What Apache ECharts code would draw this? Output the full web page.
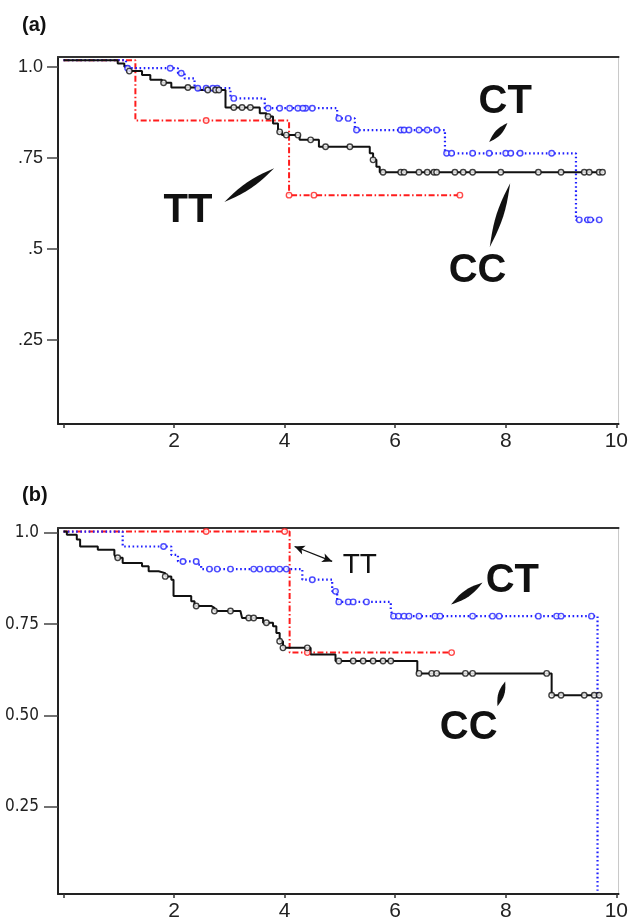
<!DOCTYPE html>
<html><head><meta charset="utf-8">
<script src="https://cdn.jsdelivr.net/npm/echarts@6/dist/echarts.min.js"></script>
<style>html,body{margin:0;padding:0;background:#fff}#c{width:631px;height:922px}</style>
</head><body><div id="c"></div>
<script>
// ---------- tick values ----------
const xTicks = [0, 2, 4, 6, 8, 10];
const xTickLabels = [2, 4, 6, 8, 10];
const yTicks = [0.25, 0.5, 0.75, 1.0];
const yLabelsA = ['.25', '.5', '.75', '1.0'];
const yLabelsB = ['0.25', '0.50', '0.75', '1.0'];

// ---------- panel (a) step curves: event times and survival ----------
const ccA_t = [0, 0.98, 1.1, 1.19, 1.42, 1.57, 1.78, 1.95, 2.43, 2.93, 3.55, 3.67, 3.79, 3.88, 3.95, 4.27, 4.62, 5.54, 5.6, 5.66, 5.72, 9.77];
const ccA_s = [1.019, 1.01, 1.001, 0.989, 0.978, 0.965, 0.957, 0.944, 0.937, 0.889, 0.873, 0.864, 0.845, 0.822, 0.813, 0.8, 0.781, 0.763, 0.745, 0.726, 0.711, 0.711];
const ctA_t = [0, 1.13, 2.07, 2.19, 2.37, 3.02, 3.64, 4.95, 5.27, 6.9, 9.27, 9.72];
const ctA_s = [1.019, 0.997, 0.983, 0.969, 0.942, 0.914, 0.887, 0.859, 0.827, 0.763, 0.58, 0.58];
const ttA_t = [0, 1.30, 4.08, 7.17];
const ttA_s = [1.019, 0.853, 0.648, 0.648];
// censor times (a)
const ccA_c = [1.19, 1.81, 2.25, 2.61, 2.75, 2.81, 3.08, 3.23, 3.38, 3.7, 3.91, 4.03, 4.24, 4.47, 4.74, 5.18, 5.6, 5.78, 6.1, 6.16, 6.43, 6.58, 6.7, 6.75, 7.08, 7.23, 7.4, 7.91, 8.59, 9.0, 9.42, 9.51, 9.69, 9.75];
const ctA_c = [1.16, 1.93, 2.13, 2.43, 2.58, 2.7, 2.78, 3.08, 3.7, 3.91, 4.09, 4.24, 4.38, 4.5, 4.33, 4.98, 5.15, 5.3, 6.1, 6.16, 6.25, 6.43, 6.58, 6.75, 6.93, 7.02, 7.4, 7.7, 8.0, 8.09, 8.26, 8.83, 9.33, 9.48, 9.53, 9.69];
const ttA_c = [2.58, 4.08, 4.53, 7.17];

// ---------- panel (b) ----------
const ccB_t = [0, 0.06, 0.24, 0.3, 0.62, 0.92, 0.95, 1.07, 1.42, 1.54, 1.72, 1.84, 1.95, 1.99, 2.31, 2.37, 2.67, 2.73, 3.2, 3.23, 3.61, 3.79, 3.85, 3.91, 3.97, 4.47, 4.92, 6.4, 8.83, 9.72];
const ccB_s = [1.004, 0.995, 0.982, 0.963, 0.954, 0.94, 0.932, 0.918, 0.909, 0.895, 0.89, 0.881, 0.872, 0.827, 0.813, 0.8, 0.795, 0.786, 0.781, 0.767, 0.754, 0.744, 0.726, 0.703, 0.685, 0.667, 0.649, 0.615, 0.555, 0.555];
const ctB_t = [0, 1.07, 1.95, 2.07, 2.43, 2.49, 4.32, 4.86, 4.95, 5.92, 5.95, 9.66];
const ctB_s = [1.004, 0.963, 0.94, 0.922, 0.913, 0.901, 0.872, 0.84, 0.811, 0.79, 0.772, 0.019];
const ttB_t = [0, 4.09, 7.02];
const ttB_s = [1.004, 0.672, 0.672];
const ccB_c = [0.98, 1.84, 2.4, 2.73, 3.02, 3.35, 3.44, 3.67, 3.91, 3.97, 4.41, 4.98, 5.24, 5.42, 5.6, 5.78, 5.92, 6.43, 6.66, 6.75, 7.27, 7.4, 8.74, 8.83, 9.0, 9.42, 9.6, 9.69];
const ctB_c = [1.81, 2.16, 2.4, 2.64, 2.78, 3.02, 3.44, 3.55, 3.7, 3.79, 3.91, 4.03, 4.5, 4.92, 4.98, 5.15, 5.24, 5.48, 5.97, 6.06, 6.16, 6.25, 6.43, 6.72, 6.81, 7.4, 7.76, 7.88, 8.59, 8.92, 9.0, 9.55];
const ttB_c = [2.58, 4.0, 4.41, 7.02];

// ---------- annotations (data coordinates) ----------
const textsA = [
  { t: 'CT', x: 7.99, y: 0.903, bold: true, size: 40 },
  { t: 'CC', x: 7.49, y: 0.439, bold: true, size: 40 },
  { t: 'TT', x: 2.25, y: 0.604, bold: true, size: 40 }
];
const lensA = [
  [[8.03, 0.846], [7.70, 0.794], 3],
  [[8.08, 0.681], [7.71, 0.505], 3.5],
  [[3.81, 0.722], [2.91, 0.629], 3.5]
];
const textsB = [
  { t: 'TT', x: 5.36, y: 0.911, bold: false, size: 28 },
  { t: 'CT', x: 8.12, y: 0.869, bold: true, size: 40 },
  { t: 'CC', x: 7.33, y: 0.464, bold: true, size: 40 }
];
const lensB = [
  [[7.58, 0.864], [7.01, 0.804], 3.5],
  [[7.99, 0.593], [7.85, 0.525], 3]
];
const arrowB = [[4.18, 0.963], [4.86, 0.922]];

// ---------- helpers ----------
const RED = '#ff1c1c', BLUE = '#1f1fff', BLACK = '#111';
function pts(t, s) { return t.map((v, i) => [v, s[i]]); }
function survAt(t, s, x) { let v = s[0]; for (let i = 0; i < t.length; i++) { if (t[i] <= x + 1e-9) v = s[i]; } return v; }
function cens(t, s, c) { return c.map(x => [x, survAt(t, s, x)]); }

function lineSeries(g, data, color, type, width) {
  return { type: 'line', xAxisIndex: g, yAxisIndex: g, data: data, step: 'end', showSymbol: false,
    lineStyle: { color: color, width: width, type: type }, animation: false, z: 3 };
}
function censSeries(g, data, color) {
  return { type: 'scatter', xAxisIndex: g, yAxisIndex: g, data: data, symbol: 'circle', symbolSize: 5.5,
    itemStyle: { color: '#fff', borderColor: color, borderWidth: 1.4 }, animation: false, z: 4 };
}
const FONT = '"Liberation Sans", Arial, sans-serif';
function xAxis(g) {
  return { type: 'value', gridIndex: g, min: -0.1, max: 10.04, position: 'bottom',
    axisLine: { show: true, onZero: false, lineStyle: { color: '#222', width: 2 } },
    axisTick: { show: true, customValues: xTicks, length: 4, lineStyle: { color: '#333', width: 1.5 } },
    axisLabel: { customValues: xTickLabels, margin: 7, fontSize: 21, color: '#222', fontFamily: FONT },
    splitLine: { show: false } };
}
function topAxis(g) {
  return { type: 'value', gridIndex: g, min: -0.1, max: 10.04, position: 'top',
    axisLine: { show: true, onZero: false, lineStyle: { color: '#333', width: 2 } },
    axisTick: { show: false }, axisLabel: { show: false }, splitLine: { show: false } };
}
function yAxis(g, min, max, labels, tickLen, margin, fam, fs) {
  return { type: 'value', gridIndex: g, min: min, max: max,
    axisLine: { show: true, onZero: false, lineStyle: { color: '#222', width: 2 } },
    axisTick: { show: true, customValues: yTicks, length: tickLen, lineStyle: { color: '#444', width: 1.5 } },
    axisLabel: { customValues: yTicks, margin: margin, fontSize: fs, color: '#222', fontFamily: fam,
      formatter: v => labels[yTicks.findIndex(k => Math.abs(k - v) < 1e-6)] },
    splitLine: { show: false } };
}

const chart = echarts.init(document.getElementById('c'), null, { renderer: 'canvas' });
const option = {
  backgroundColor: '#fff',
  animation: false,
  grid: [
    { left: 58, right: 3, top: 57, height: 367, show: true, borderColor: '#c8c8c8', borderWidth: 1, backgroundColor: '#fff' },
    { left: 58, right: 3, top: 528, height: 367, show: true, borderColor: '#c8c8c8', borderWidth: 1, backgroundColor: '#fff' }
  ],
  xAxis: [xAxis(0), xAxis(1), topAxis(0), topAxis(1)],
  yAxis: [
    yAxis(0, 0.0187, 1.0278, yLabelsA, 11, 15, FONT, 18),
    yAxis(1, 0.0101, 1.0137, yLabelsB, 14, 19, '"Liberation Sans Narrow", "DejaVu Sans Condensed", sans-serif', 17)
  ],
  series: [
    lineSeries(0, pts(ttA_t, ttA_s), RED, [6, 2.5, 1.5, 2.5], 2),
    lineSeries(0, pts(ctA_t, ctA_s), BLUE, [1.6, 2.6], 2.2),
    lineSeries(0, pts(ccA_t, ccA_s), BLACK, 'solid', 2),
    censSeries(0, cens(ttA_t, ttA_s, ttA_c), RED),
    censSeries(0, cens(ctA_t, ctA_s, ctA_c), BLUE),
    censSeries(0, cens(ccA_t, ccA_s, ccA_c), BLACK),
    Object.assign(lineSeries(1, pts(ttB_t, ttB_s), RED, [6, 2.5, 1.5, 2.5], 2), {
      markLine: { silent: true, symbol: ['arrow', 'arrow'], symbolSize: [7, 10], label: { show: false },
        lineStyle: { color: '#111', width: 1.3, type: 'solid' },
        data: [[{ coord: arrowB[0] }, { coord: arrowB[1] }]] }
    }),
    lineSeries(1, pts(ctB_t, ctB_s), BLUE, [1.6, 2.6], 2.2),
    lineSeries(1, pts(ccB_t, ccB_s), BLACK, 'solid', 2),
    censSeries(1, cens(ttB_t, ttB_s, ttB_c), RED),
    censSeries(1, cens(ctB_t, ctB_s, ctB_c), BLUE),
    censSeries(1, cens(ccB_t, ccB_s, ccB_c), BLACK)
  ]
};
chart.setOption(option);

function lensShape(p1, p2, w) {
  const dx = p2[0] - p1[0], dy = p2[1] - p1[1];
  const L = Math.hypot(dx, dy); const nx = -dy / L, ny = dx / L;
  const side1 = [], side2 = [];
  const N = 10;
  for (let i = 0; i <= N; i++) {
    const f = i / N; const ww = w * Math.sin(Math.PI * f);
    side1.push([p1[0] + dx * f + nx * ww, p1[1] + dy * f + ny * ww]);
    side2.push([p1[0] + dx * f - nx * ww, p1[1] + dy * f - ny * ww]);
  }
  return side1.concat(side2.reverse());
}
const graphics = [];
function addPanel(seriesIdx, texts, lenses) {
  texts.forEach(a => {
    const p = chart.convertToPixel({ seriesIndex: seriesIdx }, [a.x, a.y]);
    graphics.push({ type: 'text', x: p[0], y: p[1], z: 10,
      style: { text: a.t, fill: '#111', align: 'center', verticalAlign: 'middle',
        font: (a.bold ? 'bold ' : '') + a.size + 'px ' + FONT } });
  });
  lenses.forEach(l => {
    const a = chart.convertToPixel({ seriesIndex: seriesIdx }, l[0]);
    const b = chart.convertToPixel({ seriesIndex: seriesIdx }, l[1]);
    graphics.push({ type: 'polygon', z: 10, shape: { points: lensShape(a, b, l[2]) }, style: { fill: '#111' } });
  });
}
addPanel(0, textsA, lensA);
addPanel(6, textsB, lensB);
graphics.push({ type: 'text', left: 22, top: 15, z: 10, style: { text: '(a)', font: 'bold 20px ' + FONT, fill: '#111' } });
graphics.push({ type: 'text', left: 22, top: 485, z: 10, style: { text: '(b)', font: 'bold 20px ' + FONT, fill: '#111' } });
chart.setOption({ graphic: graphics });
</script></body></html>
